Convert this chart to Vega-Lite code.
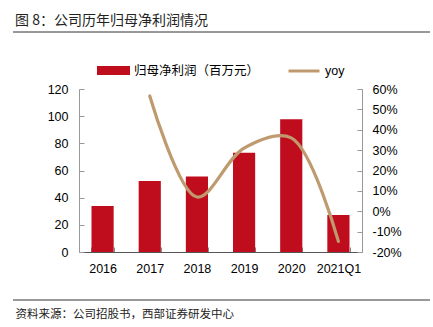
{
  "$schema": "https://vega.github.io/schema/vega-lite/v6.json",
  "width": 283,
  "height": 163,
  "autosize": {"type": "none"},
  "padding": {"left": 79, "top": 89, "right": 71, "bottom": 75},
  "background": "white",
  "config": {"view": {"stroke": null}, "font": "Liberation Sans"},
  "title": {
    "text": "图 8：公司历年归母净利润情况",
    "anchor": "start",
    "frame": "group",
    "dx": -64,
    "font": "Noto Sans CJK SC",
    "fontSize": 14,
    "fontWeight": "normal",
    "color": "#222"
  },
  "data": {
    "values": [
      {"period": "2016", "profit": 33.9, "yoy": null},
      {"period": "2017", "profit": 52.3, "yoy": 0.566},
      {"period": "2018", "profit": 55.5, "yoy": 0.07},
      {"period": "2019", "profit": 73.0, "yoy": 0.31},
      {"period": "2020", "profit": 97.7, "yoy": 0.36},
      {"period": "2021Q1", "profit": 27.2, "yoy": -0.148}
    ]
  },
  "layer": [
    {
      "mark": {"type": "bar"},
      "encoding": {
        "x": {
          "field": "period", "type": "ordinal", "sort": null,
          "scale": {"paddingInner": 0.53, "paddingOuter": 0.265},
          "axis": {
            "title": "资料来源：公司招股书，西部证券研发中心",
            "titleX": -64, "titleY": 62, "titleAlign": "left", "titleBaseline": "middle",
            "titleFont": "Noto Sans CJK SC", "titleFontSize": 11.5, "titleFontWeight": "normal", "titleColor": "#222",
            "labelAngle": 0, "labelFontSize": 12.5, "labelColor": "#000", "labelPadding": 15,
            "tickBand": "extent", "tickSize": -5, "tickColor": "#888", "domainColor": "#555"
          }
        },
        "y": {
          "field": "profit", "type": "quantitative",
          "scale": {"domain": [0, 120], "nice": false},
          "axis": {
            "title": null, "grid": false, "values": [0, 20, 40, 60, 80, 100, 120],
            "labelFontSize": 12.5, "labelColor": "#000", "labelPadding": 16,
            "tickSize": -5, "tickColor": "#999", "domainColor": "#999"
          }
        },
        "fill": {
          "datum": "归母净利润（百万元）",
          "scale": {"range": ["#C00D1E"]},
          "legend": {
            "orient": "none", "legendX": 18, "legendY": -35, "title": null,
            "symbolType": "M-1,-0.27H1V0.27H-1Z", "symbolSize": 1089, "symbolStrokeWidth": 0,
            "labelFont": "Noto Sans CJK SC", "labelFontSize": 12.5, "labelColor": "#000"
          }
        }
      }
    },
    {
      "mark": {"type": "line", "interpolate": "catmull-rom", "strokeWidth": 3.2, "strokeCap": "round"},
      "encoding": {
        "x": {"field": "period", "type": "ordinal", "sort": null, "scale": {"paddingInner": 0.53, "paddingOuter": 0.265}},
        "y": {
          "field": "yoy", "type": "quantitative",
          "scale": {"domain": [-0.2, 0.6], "nice": false},
          "axis": {
            "orient": "right", "title": null, "grid": false,
            "values": [-0.2, -0.1, 0, 0.1, 0.2, 0.3, 0.4, 0.5, 0.6],
            "labelExpr": "(datum.value < -0.0001 ? '-' : '') + format(abs(datum.value), '.0%')",
            "labelFontSize": 12.5, "labelColor": "#000", "labelPadding": 15,
            "tickSize": -5, "tickColor": "#999", "domainColor": "#999"
          }
        },
        "stroke": {
          "datum": "yoy",
          "scale": {"range": ["#BF9A6E"]},
          "legend": {
            "orient": "none", "legendX": 208, "legendY": -35, "title": null,
            "symbolType": "stroke", "symbolSize": 961, "symbolStrokeWidth": 3,
            "labelFontSize": 12.5, "labelColor": "#000"
          }
        }
      }
    },
    {
      "data": {"values": [{}]},
      "mark": {"type": "rule", "color": "#333", "strokeWidth": 1},
      "encoding": {"x": {"value": -66}, "x2": {"value": 351}, "y": {"value": -57}}
    },
    {
      "data": {"values": [{}]},
      "mark": {"type": "rule", "color": "#333", "strokeWidth": 1},
      "encoding": {"x": {"value": -66}, "x2": {"value": 351}, "y": {"value": 211}}
    }
  ],
  "resolve": {"scale": {"y": "independent", "fill": "independent", "stroke": "independent"}}
}
